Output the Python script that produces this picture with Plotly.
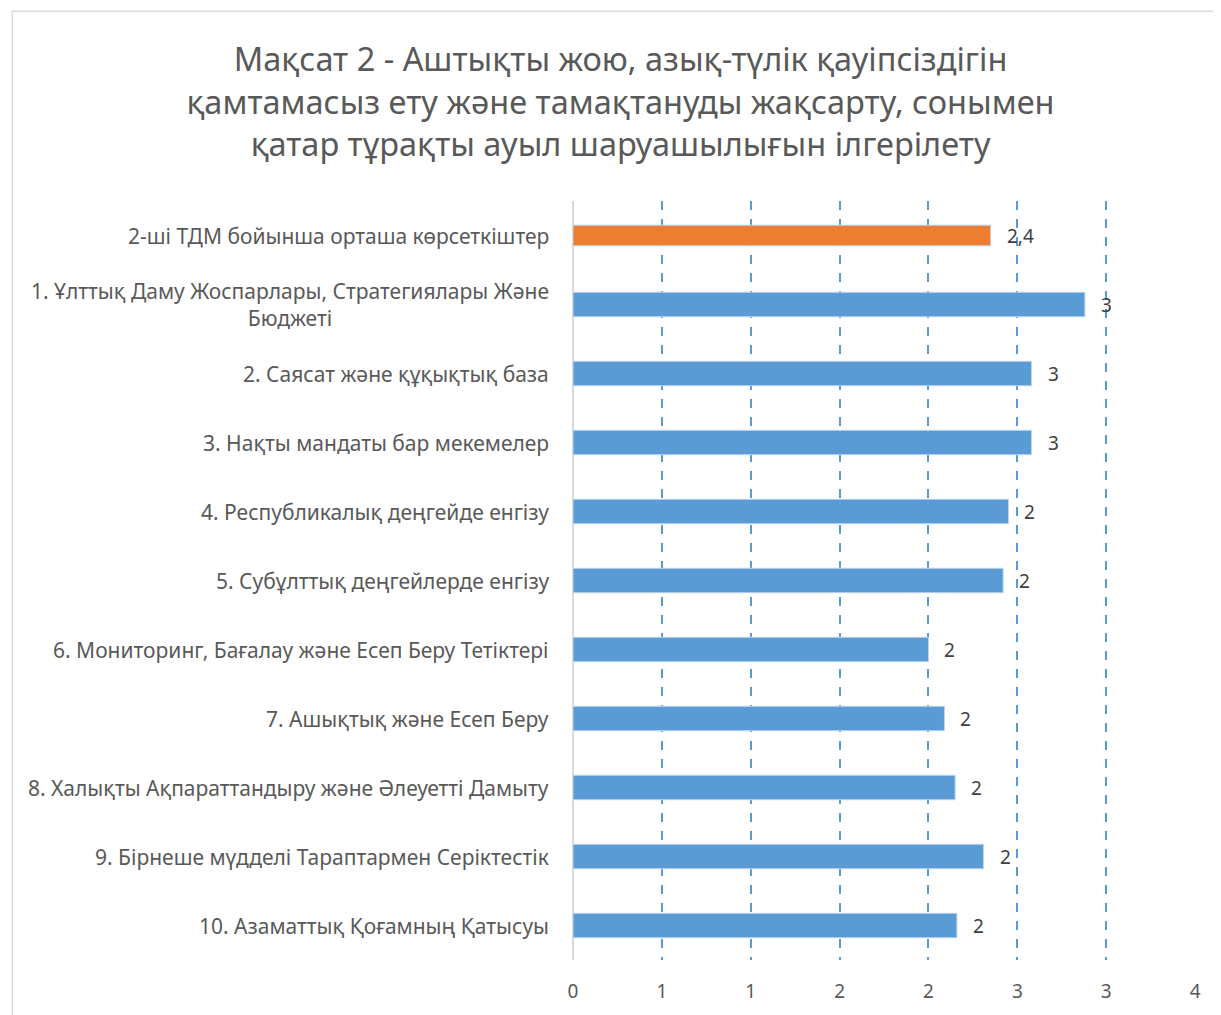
import plotly.graph_objects as go

# Categories (top to bottom) and values
categories = [
    "2-ші ТДМ бойынша орташа көрсеткіштер",
    "1. Ұлттық Даму Жоспарлары, Стратегиялары Және<br>Бюджеті",
    "2. Саясат және құқықтық база",
    "3. Нақты мандаты бар мекемелер",
    "4. Республикалық деңгейде енгізу",
    "5. Субұлттық деңгейлерде енгізу",
    "6. Мониторинг, Бағалау және Есеп Беру Тетіктері",
    "7. Ашықтық және Есеп Беру",
    "8. Халықты Ақпараттандыру және Әлеуетті Дамыту",
    "9. Бірнеше мүдделі Тараптармен Серіктестік",
    "10. Азаматтық Қоғамның Қатысуы",
]
values = [2.35, 2.88, 2.58, 2.58, 2.45, 2.42, 2.00, 2.09, 2.15, 2.31, 2.16]

x_tickvals = [0, 0.5, 1, 1.5, 2, 2.5, 3, 3.5]
x_ticktext = ["0", "1", "1", "2", "2", "3", "3", "4"]

title_text = ("Мақсат 2 - Аштықты жою, азық-түлік қауіпсіздігін<br>"
              "қамтамасыз ету және тамақтануды жақсарту, сонымен<br>"
              "қатар тұрақты ауыл шаруашылығын ілгерілету")

FONT = "Noto Sans"
ORANGE = "#ed7d31"
BLUE = "#5b9bd5"

colors = [ORANGE] + [BLUE] * (len(values) - 1)
widths = [0.30] + [0.355] * (len(values) - 1)

# average shown with one decimal (comma), the rest rounded to integers
labels = [f"{values[0]:.1f}".replace(".", ",")] + [f"{v:.0f}" for v in values[1:]]

fig = go.Figure()
fig.add_trace(go.Bar(
    x=values,
    y=categories,
    orientation="h",
    width=widths,
    marker=dict(color=colors, line=dict(color="#bdd7ee", width=1)),
    hoverinfo="x+y",
))

# value labels to the right of each bar
for cat, v, lab in zip(categories, values, labels):
    fig.add_annotation(x=v, y=cat, xref="x", yref="y", text=lab,
                       showarrow=False, xanchor="left", xshift=14,
                       font=dict(family=FONT, size=19, color="#404040"))

# category labels, centred within a right-aligned block like Excel
for cat in categories:
    fig.add_annotation(x=0, y=cat, xref="x", yref="y", text=cat,
                       showarrow=False, xanchor="right", align="center",
                       xshift=-22,
                       font=dict(family=FONT, size=21, color="#595959"))

# light chart border
fig.add_shape(type="rect", xref="paper", yref="paper",
              x0=-0.9, x1=1.2, y0=-0.2, y1=1.25,
              line=dict(color="#d9d9d9", width=1.5), layer="below")

fig.update_layout(
    width=1213,
    height=1007,
    margin=dict(l=565, r=25, t=193, b=55),
    paper_bgcolor="white",
    plot_bgcolor="white",
    showlegend=False,
    title=dict(text=title_text, x=0.505, xref="container", xanchor="center",
               y=0.937, yref="container", yanchor="middle",
               font=dict(family=FONT, size=32.5, color="#595959")),
    xaxis=dict(
        range=[0, 3.505],
        tickvals=x_tickvals,
        ticktext=x_ticktext,
        showgrid=True,
        gridcolor=BLUE,
        griddash="dash",
        gridwidth=1.5,
        zeroline=True,
        zerolinecolor="#d9d9d9",
        zerolinewidth=2,
        ticks="",
        ticklabelstandoff=18,
        tickfont=dict(family=FONT, size=19, color="#595959"),
        fixedrange=True,
    ),
    yaxis=dict(
        autorange="reversed",
        showticklabels=False,
        showgrid=False,
        ticks="",
        fixedrange=True,
    ),
)

fig.write_html("out.html")
